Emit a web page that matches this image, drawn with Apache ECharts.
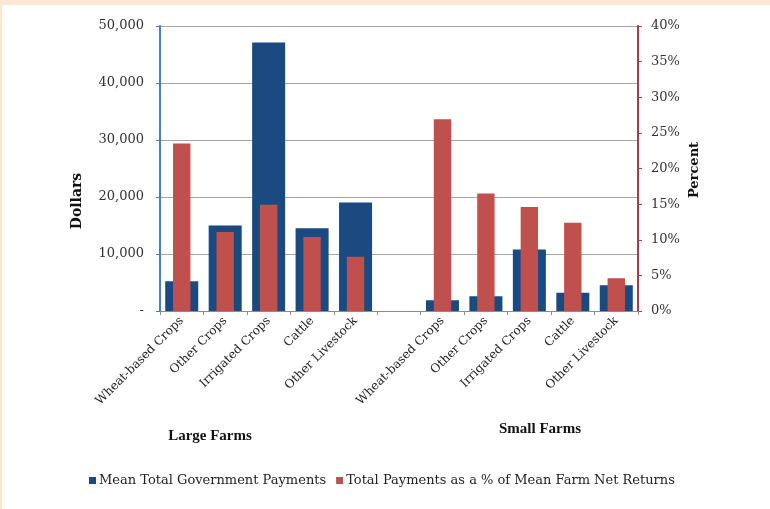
<!DOCTYPE html>
<html>
<head>
<meta charset="utf-8">
<script src="https://cdn.jsdelivr.net/npm/echarts@6/dist/echarts.min.js"></script>
<style>
html,body{margin:0;padding:0;background:#fff;}
#chart{width:770px;height:509px;}
</style>
</head>
<body>
<div id="chart"></div>
<script>
const categories = ["Wheat-based Crops","Other Crops","Irrigated Crops","Cattle","Other Livestock","",
                    "Wheat-based Crops","Other Crops","Irrigated Crops","Cattle","Other Livestock"];
const paymentsDollars = [5200, 15000, 47100, 14500, 19050, null, 1900, 2600, 10800, 3200, 4500];
const paymentsPercent = [23.5, 11.1, 14.9, 10.4, 7.6, null, 26.9, 16.5, 14.6, 12.4, 4.6];
const seriesNames = ["Mean Total Government Payments", "Total Payments as a % of Mean Farm Net Returns"];
const groupLabels = ["Large Farms", "Small Farms"];
const leftAxisName = "Dollars";
const rightAxisName = "Percent";

const serif = "'Liberation Serif', 'DejaVu Serif', serif";
const wideSerif = "'DejaVu Serif', 'Liberation Serif', serif";
const chart = echarts.init(document.getElementById('chart'));
chart.setOption({
  backgroundColor: '#ffffff',
  animation: false,
  textStyle: {fontFamily: wideSerif},
  grid: {left: 160, right: 132, top: 26, bottom: 198},
  legend: {
    left: 84, top: 469,
    icon: 'rect', itemWidth: 7, itemHeight: 7, itemGap: 10,
    textStyle: {fontFamily: wideSerif, fontSize: 13, color: '#222', padding: [0,0,0,-2]},
    data: seriesNames
  },
  xAxis: [
    {
      type: 'category', data: categories,
      axisLine: {lineStyle: {color: '#8c8c8c', width: 1}},
      axisTick: {show: true, length: 4, lineStyle: {color: '#8c8c8c'}},
      axisLabel: {rotate: 45, fontFamily: wideSerif, fontSize: 12, color: '#222', margin: 8, interval: 0}
    },
    {
      type: 'category', data: categories, show: false,
      position: 'bottom'
    }
  ],
  yAxis: [
    {
      type: 'value', min: 0, max: 50000, interval: 10000, position: 'left',
      axisLine: {show: true, lineStyle: {color: '#4a7ebb', width: 2}},
      axisTick: {show: true, length: 4, lineStyle: {color: '#4a7ebb'}},
      splitLine: {lineStyle: {color: '#a6a6a6', width: 1}},
      axisLabel: {
        fontFamily: wideSerif, fontSize: 13, color: '#333', margin: 16,
        formatter: v => v === 0 ? '-' : v.toLocaleString('en-US')
      }
    },
    {
      type: 'value', min: 0, max: 40, interval: 5, position: 'right',
      axisLine: {show: true, lineStyle: {color: '#a0404a', width: 2}},
      axisTick: {show: true, length: 4, lineStyle: {color: '#a0404a'}},
      splitLine: {show: false},
      axisLabel: {fontFamily: wideSerif, fontSize: 13, color: '#333', margin: 13, formatter: '{value}%'}
    }
  ],
  series: [
    {
      name: seriesNames[0], type: 'bar', xAxisIndex: 0, yAxisIndex: 0,
      data: paymentsDollars, barWidth: '76%',
      itemStyle: {color: '#1b4a80'}, z: 2
    },
    {
      name: seriesNames[1], type: 'bar', xAxisIndex: 1, yAxisIndex: 1,
      data: paymentsPercent, barWidth: '40%',
      itemStyle: {color: '#c0504d'}, z: 3
    }
  ],
  graphic: [
    {type: 'rect', left: 0, top: 0, shape: {width: 770, height: 5}, style: {fill: '#fde6d2'}, silent: true},
    {type: 'rect', left: 0, top: 0, shape: {width: 2, height: 509}, style: {fill: '#fde6d2'}, silent: true},
    {type: 'text', x: 77, y: 201, rotation: Math.PI/2,
     style: {text: leftAxisName, font: "bold 14px " + wideSerif, fill: '#111', align: 'center', verticalAlign: 'middle'}},
    {type: 'text', x: 695, y: 170, rotation: Math.PI/2,
     style: {text: rightAxisName, font: "bold 13px " + wideSerif, fill: '#111', align: 'center', verticalAlign: 'middle'}},
    {type: 'text', x: 210, y: 436,
     style: {text: groupLabels[0], font: "bold 15px " + serif, fill: '#111', align: 'center', verticalAlign: 'middle'}},
    {type: 'text', x: 540, y: 429,
     style: {text: groupLabels[1], font: "bold 15px " + serif, fill: '#111', align: 'center', verticalAlign: 'middle'}}
  ]
});
</script>
</body>
</html>
